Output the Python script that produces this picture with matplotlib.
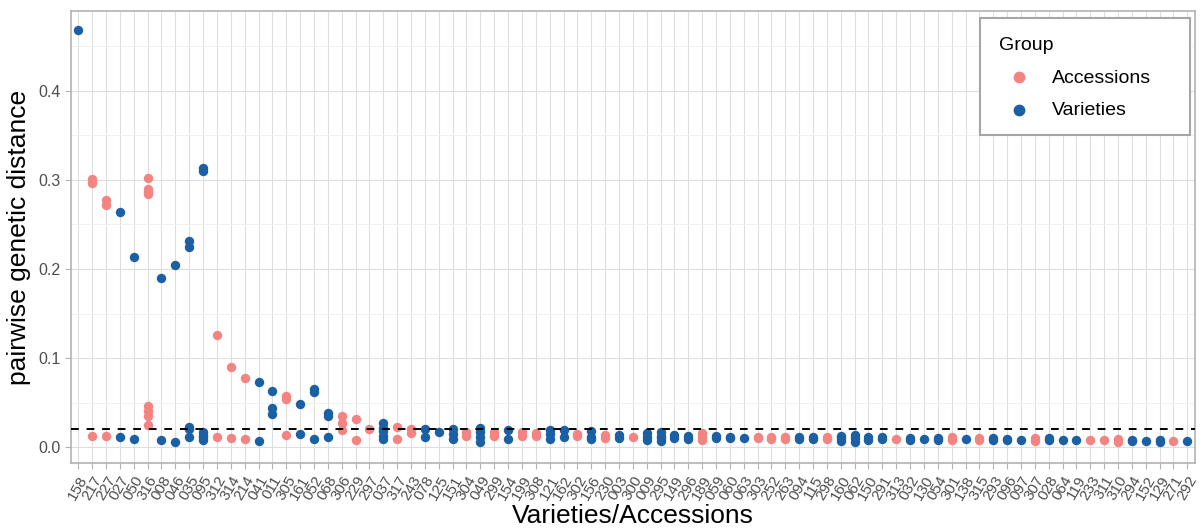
import matplotlib
matplotlib.use("Agg")
import matplotlib.pyplot as plt
from matplotlib.ticker import MultipleLocator
from matplotlib.patches import Rectangle

plt.rcParams['font.family'] = ['Liberation Sans', 'DejaVu Sans']

# sample ids along the x axis (order as in the figure)
categories = ["158", "217", "227", "027", "050", "316", "008", "046", "035", "095",
              "312", "314", "214", "041", "011", "305", "161", "052", "068", "306",
              "229", "297", "037", "317", "243", "078", "125", "151", "304", "049",
              "299", "154", "199", "308", "121", "162", "302", "156", "230", "003",
              "300", "009", "295", "149", "296", "189", "059", "060", "063", "303",
              "252", "263", "094", "115", "298", "160", "062", "150", "291", "313",
              "032", "130", "054", "301", "138", "315", "293", "096", "097", "307",
              "028", "064", "119", "233", "311", "310", "294", "152", "129", "271",
              "292"]

# pairwise distances per sample, accessions
accessions = [[], [0.301, 0.296, 0.013], [0.277, 0.272, 0.013], [], [],
              [0.302, 0.290, 0.287, 0.284, 0.046, 0.041, 0.035, 0.025], [], [], [], [],
              [0.126, 0.012], [0.090, 0.010], [0.078, 0.009], [], [],
              [0.057, 0.054, 0.014], [], [], [], [0.035, 0.027, 0.019],
              [0.032, 0.008], [0.021], [], [0.023, 0.009], [0.020, 0.016],
              [], [], [], [0.017, 0.013], [],
              [0.017, 0.013], [], [0.017, 0.013], [0.016, 0.013], [],
              [], [0.015, 0.013], [], [0.014, 0.010], [],
              [0.012], [], [], [], [],
              [0.016, 0.012, 0.008], [], [], [], [0.012, 0.010],
              [0.012, 0.009], [0.012, 0.009], [], [], [0.012, 0.009],
              [], [], [], [], [0.009],
              [], [], [], [0.011, 0.008], [],
              [0.010, 0.008], [], [], [], [0.010, 0.007],
              [], [], [], [0.008], [0.008],
              [0.009, 0.006], [], [], [], [0.007],
              []]

# pairwise distances per sample, varieties
varieties = [[0.468], [], [], [0.264, 0.011], [0.213, 0.009],
             [], [0.190, 0.008], [0.205, 0.006], [0.231, 0.225, 0.023, 0.020, 0.011],
             [0.313, 0.310, 0.017, 0.014, 0.011, 0.008],
             [], [], [], [0.073, 0.007], [0.063, 0.044, 0.037],
             [], [0.049, 0.015], [0.065, 0.062, 0.009], [0.039, 0.035, 0.011], [],
             [], [], [0.027, 0.022, 0.018, 0.013, 0.009], [], [],
             [0.021, 0.011], [0.017], [0.021, 0.015, 0.009], [], [0.022, 0.017, 0.011, 0.006],
             [], [0.019, 0.009], [], [], [0.019, 0.015, 0.009],
             [0.019, 0.011], [], [0.018, 0.012, 0.009], [], [0.014, 0.010],
             [], [0.016, 0.012, 0.008], [0.017, 0.013, 0.010, 0.007], [0.014, 0.010], [0.013, 0.009],
             [], [0.013, 0.010], [0.012, 0.010], [0.010], [],
             [], [], [0.012, 0.009], [0.011, 0.009], [],
             [0.013, 0.010, 0.007], [0.014, 0.010, 0.006], [0.012, 0.008], [0.012, 0.009], [],
             [0.010, 0.008], [0.009], [0.010, 0.008], [], [0.009],
             [], [0.010, 0.008], [0.009, 0.008], [0.008], [],
             [0.010, 0.008], [0.008], [0.008], [], [],
             [], [0.008, 0.007], [0.007], [0.008, 0.006], [],
             [0.007]]

threshold = 0.02

col_acc = "#F48482"
col_var = "#1B60A4"

fig = plt.figure(figsize=(12.04, 5.31), dpi=100)
ax = fig.add_axes([0.0587, 0.1275, 0.9338, 0.8525])

ax_x, ax_y = [], []
for i, vals in enumerate(accessions):
    for v in vals:
        ax_x.append(i + 1)
        ax_y.append(v)
vx, vy = [], []
for i, vals in enumerate(varieties):
    for v in vals:
        vx.append(i + 1)
        vy.append(v)

ax.scatter(ax_x, ax_y, s=46, color=col_acc, label="Accessions", zorder=3, linewidths=0)
ax.scatter(vx, vy, s=46, color=col_var, label="Varieties", zorder=3, linewidths=0)
ax.axhline(threshold, color="black", linestyle=(0, (4, 4)), linewidth=1.4, zorder=4)

ax.set_xlim(0.45, len(categories) + 0.55)
ax.set_ylim(-0.018, 0.49)
ax.set_xticks(range(1, len(categories) + 1))
ax.set_xticklabels(categories, rotation=60, ha="right", rotation_mode="anchor",
                   fontsize=11, color="#4D4D4D")
ax.yaxis.set_minor_locator(MultipleLocator(0.05))
ax.set_yticks([0.0, 0.1, 0.2, 0.3, 0.4])
ax.set_yticklabels(["0.0", "0.1", "0.2", "0.3", "0.4"], fontsize=11.5, color="#4D4D4D")

ax.grid(True, which="major", color="#DEDEDE", linewidth=0.8, zorder=0)
ax.grid(True, which="minor", axis="y", color="#EFEFEF", linewidth=0.6, zorder=0)
ax.set_axisbelow(True)
for sp in ax.spines.values():
    sp.set_color("#B3B3B3")
    sp.set_linewidth(1.2)
ax.tick_params(axis="both", which="major", color="#B3B3B3", length=4, width=0.8)
ax.tick_params(axis="y", which="minor", length=0)

ax.set_xlabel("Varieties/Accessions", fontsize=19, labelpad=1)
ax.set_ylabel("pairwise genetic distance", fontsize=19, labelpad=5)

# legend box drawn separately so it can be wider than its content
box = Rectangle((0.8088, 0.7254), 0.9956 - 0.8088, 0.9839 - 0.7254,
                transform=ax.transAxes, facecolor="white", edgecolor="#A6A6A6",
                linewidth=1.5, zorder=5)
ax.add_patch(box)
leg = ax.legend(title="Group", loc="upper left", bbox_to_anchor=(0.8088, 0.9839),
                borderaxespad=0, fontsize=14, title_fontsize=14, frameon=False,
                handletextpad=0.7, markerscale=1.25, borderpad=1.0,
                labelspacing=0.75)
leg._legend_box.align = "left"
leg.set_zorder(6)

fig.savefig("out.png", dpi=100)
